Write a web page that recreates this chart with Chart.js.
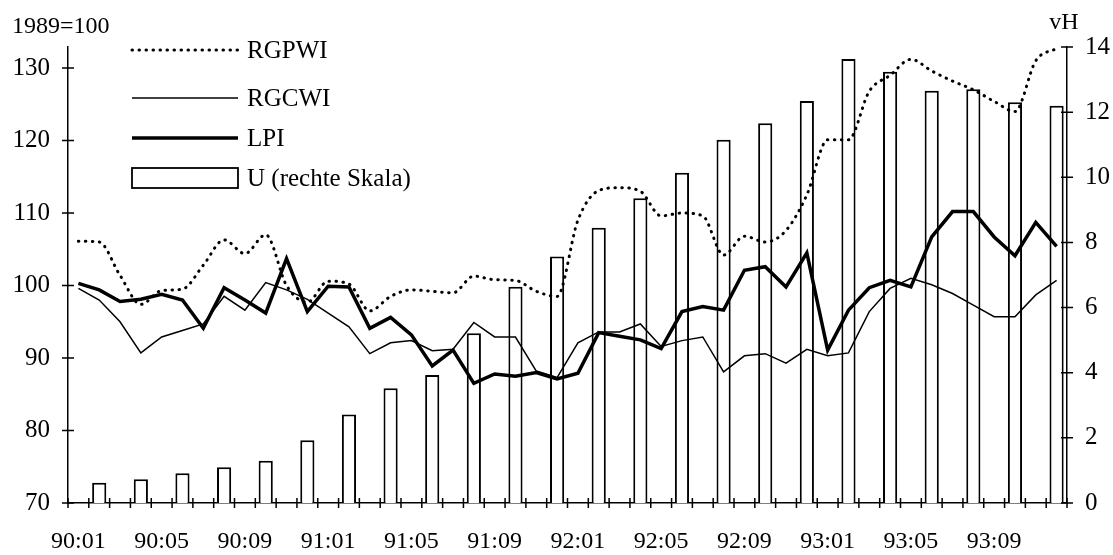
<!DOCTYPE html>
<html>
<head>
<meta charset="utf-8">
<style>
  html, body { margin: 0; padding: 0; background: #fff; }
  #wrap { width: 1113px; height: 555px; }
</style>
<script src="https://cdn.jsdelivr.net/npm/chart.js@4.4.0/dist/chart.umd.min.js"></script>
</head>
<body>
<div id="wrap"><canvas id="chart" width="1113" height="555"></canvas></div>
<script>
  // Monthly data 1990:01 - 1993:12
  const months = [
    '90:01', '90:02', '90:03', '90:04', '90:05', '90:06', '90:07', '90:08', '90:09', '90:10', '90:11', '90:12',
    '91:01', '91:02', '91:03', '91:04', '91:05', '91:06', '91:07', '91:08', '91:09', '91:10', '91:11', '91:12',
    '92:01', '92:02', '92:03', '92:04', '92:05', '92:06', '92:07', '92:08', '92:09', '92:10', '92:11', '92:12',
    '93:01', '93:02', '93:03', '93:04', '93:05', '93:06', '93:07', '93:08', '93:09', '93:10', '93:11', '93:12'
  ];
  const shownLabels = ['90:01', '90:05', '90:09', '91:01', '91:05', '91:09', '92:01', '92:05', '92:09', '93:01', '93:05', '93:09'];

  const rgpwi = [
    106.1, 106.0, 101.4, 97.4, 99.3, 99.5, 102.8, 106.3, 104.4, 107.0, 100.0, 97.7,
    100.6, 100.2, 96.5, 98.5, 99.4, 99.2, 99.0, 101.3, 100.8, 100.7, 99.2, 98.5,
    109.0, 113.1, 113.5, 113.0, 109.6, 110.0, 109.6, 104.2, 106.8, 106.0, 107.6, 112.5,
    120.1, 120.1, 126.8, 129.0, 131.2, 129.6, 128.2, 127.0, 125.4, 124.0, 131.0, 132.7
  ];
  const rgcwi = [
    99.6, 98.0, 95.0, 90.7, 92.9, 93.8, 94.7, 98.5, 96.6, 100.4, 99.4, 98.1,
    96.2, 94.3, 90.6, 92.1, 92.4, 91.0, 91.2, 94.9, 92.9, 92.9, 88.2, 87.3,
    92.1, 93.6, 93.6, 94.7, 91.6, 92.4, 92.9, 88.1, 90.3, 90.6, 89.3, 91.2,
    90.3, 90.7, 96.4, 99.6, 101.0, 100.1, 98.9, 97.3, 95.7, 95.7, 98.7, 100.7
  ];
  const lpi = [
    100.3, 99.4, 97.8, 98.1, 98.8, 98.0, 94.1, 99.7, 98.0, 96.2, 103.7, 96.4,
    99.9, 99.8, 94.1, 95.6, 93.2, 88.9, 91.1, 86.5, 87.8, 87.5, 88.0, 87.1,
    87.9, 93.5, 93.0, 92.5, 91.3, 96.4, 97.1, 96.6, 102.1, 102.6, 99.8, 104.5,
    91.1, 96.6, 99.7, 100.7, 99.8, 106.7, 110.2, 110.2, 106.7, 104.1, 108.7, 105.4
  ];
  // U (right scale, vH), every second month
  const unemployment = [
    null, 0.62, null, 0.73, null, 0.91, null, 1.10, null, 1.30, null, 1.93,
    null, 2.72, null, 3.52, null, 3.93, null, 5.21, null, 6.64, null, 7.57,
    null, 8.45, null, 9.36, null, 10.14, null, 11.15, null, 11.66, null, 12.34,
    null, 13.63, null, 13.24, null, 12.66, null, 12.7, null, 12.3, null, 12.2
  ];

  const leftTicks = [70, 80, 90, 100, 110, 120, 130];
  const rightTicks = [0, 2, 4, 6, 8, 10, 12, 14];

  const FONT = '"Liberation Serif", "DejaVu Serif", serif';
  Chart.defaults.font.family = FONT;
  Chart.defaults.font.size = 25;
  Chart.defaults.color = '#000';

  /**
   * Axis ticks that cross the axis lines, titles and the legend
   */
  const decorations = {
    id: 'decorations',
    afterDraw(chart) {
      const { ctx, chartArea } = chart;
      const xs = chart.scales.x;
      const yl = chart.scales.y;
      const yr = chart.scales.y2;
      const half = 5;

      ctx.save();
      ctx.strokeStyle = '#000';
      ctx.lineWidth = 1.5;
      ctx.beginPath();
      for (let i = 0; i <= months.length; i++) {
        const x = xs.getPixelForValue(i - 0.5);
        ctx.moveTo(x, chartArea.bottom - half);
        ctx.lineTo(x, chartArea.bottom + half);
      }
      yl.ticks.forEach((t) => {
        const y = yl.getPixelForValue(t.value);
        ctx.moveTo(chartArea.left - half - 1, y);
        ctx.lineTo(chartArea.left + half + 1, y);
      });
      yr.ticks.forEach((t) => {
        const y = yr.getPixelForValue(t.value);
        ctx.moveTo(chartArea.right - half - 1, y);
        ctx.lineTo(chartArea.right + half + 1, y);
      });
      ctx.stroke();

      // axis titles
      ctx.fillStyle = '#000';
      ctx.font = '24px ' + FONT;
      ctx.textBaseline = 'middle';
      ctx.textAlign = 'left';
      ctx.fillText('1989=100', chartArea.left - 56, chartArea.top - 20);
      ctx.textAlign = 'center';
      ctx.fillText('vH', chartArea.right - 3, chartArea.top - 24);

      // legend
      const lx0 = chartArea.left + 64;
      const lx1 = chartArea.left + 170;
      const tx = chartArea.left + 179;
      const rows = [
        { ds: chart.data.datasets[0], y: chartArea.top + 3 },
        { ds: chart.data.datasets[1], y: chartArea.top + 51 },
        { ds: chart.data.datasets[2], y: chartArea.top + 91 },
        { ds: chart.data.datasets[3], y: chartArea.top + 131 }
      ];
      ctx.font = '25px ' + FONT;
      ctx.textAlign = 'left';
      rows.forEach((r) => {
        const ds = r.ds;
        if (ds.type === 'bar') {
          ctx.setLineDash([]);
          ctx.lineWidth = 1.8;
          ctx.strokeRect(lx0, r.y - 10, lx1 - lx0, 20);
        } else {
          ctx.beginPath();
          ctx.lineWidth = ds.borderWidth;
          ctx.lineCap = ds.borderCapStyle || 'butt';
          ctx.setLineDash(ds.borderDash || []);
          ctx.moveTo(lx0, r.y);
          ctx.lineTo(lx1, r.y);
          ctx.stroke();
          ctx.setLineDash([]);
          ctx.lineCap = 'butt';
        }
        ctx.fillText(ds.label, tx, r.y + 1);
      });
      ctx.restore();
    }
  };

  new Chart(document.getElementById('chart'), {
    data: {
      labels: months,
      datasets: [
        {
          type: 'line',
          label: 'RGPWI',
          data: rgpwi,
          borderColor: '#000',
          borderWidth: 3,
          borderDash: [0.5, 6.5],
          borderCapStyle: 'round',
          cubicInterpolationMode: 'monotone',
          pointRadius: 0,
          yAxisID: 'y',
          order: 1
        },
        {
          type: 'line',
          label: 'RGCWI',
          data: rgcwi,
          borderColor: '#000',
          borderWidth: 1.5,
          tension: 0,
          pointRadius: 0,
          yAxisID: 'y',
          order: 2
        },
        {
          type: 'line',
          label: 'LPI',
          data: lpi,
          borderColor: '#000',
          borderWidth: 3.5,
          borderJoinStyle: 'miter',
          tension: 0,
          pointRadius: 0,
          yAxisID: 'y',
          order: 0
        },
        {
          type: 'bar',
          label: 'U (rechte Skala)',
          data: unemployment,
          backgroundColor: '#fff',
          borderColor: '#000',
          borderWidth: 2,
          barPercentage: 0.68,
          categoryPercentage: 1.0,
          yAxisID: 'y2',
          order: 5
        }
      ]
    },
    options: {
      responsive: false,
      animation: false,
      layout: { padding: { top: 47, left: 0, right: 0, bottom: 0 } },
      plugins: {
        legend: { display: false },
        tooltip: { enabled: false }
      },
      scales: {
        x: {
          type: 'category',
          offset: true,
          grid: { display: false, drawTicks: false, offset: true },
          border: { display: true, color: '#000', width: 1.5 },
          ticks: {
            autoSkip: false,
            maxRotation: 0,
            padding: 24,
            font: { size: 24 },
            callback: (v, i) => (shownLabels.includes(months[i]) ? months[i] : '')
          },
          afterFit: (scale) => { scale.height = 52; }
        },
        y: {
          position: 'left',
          min: 70,
          max: 132.9,
          grid: { display: false, drawTicks: false },
          border: { display: true, color: '#000', width: 1.5 },
          ticks: { padding: 18 },
          afterBuildTicks: (scale) => { scale.ticks = leftTicks.map((v) => ({ value: v })); },
          afterFit: (scale) => { scale.width = 68; }
        },
        y2: {
          position: 'right',
          min: 0,
          max: 14,
          grid: { display: false, drawTicks: false },
          border: { display: true, color: '#000', width: 1.5 },
          ticks: { padding: 18 },
          afterBuildTicks: (scale) => { scale.ticks = rightTicks.map((v) => ({ value: v })); },
          afterFit: (scale) => { scale.width = 46; }
        }
      }
    },
    plugins: [decorations]
  });
</script>
</body>
</html>
